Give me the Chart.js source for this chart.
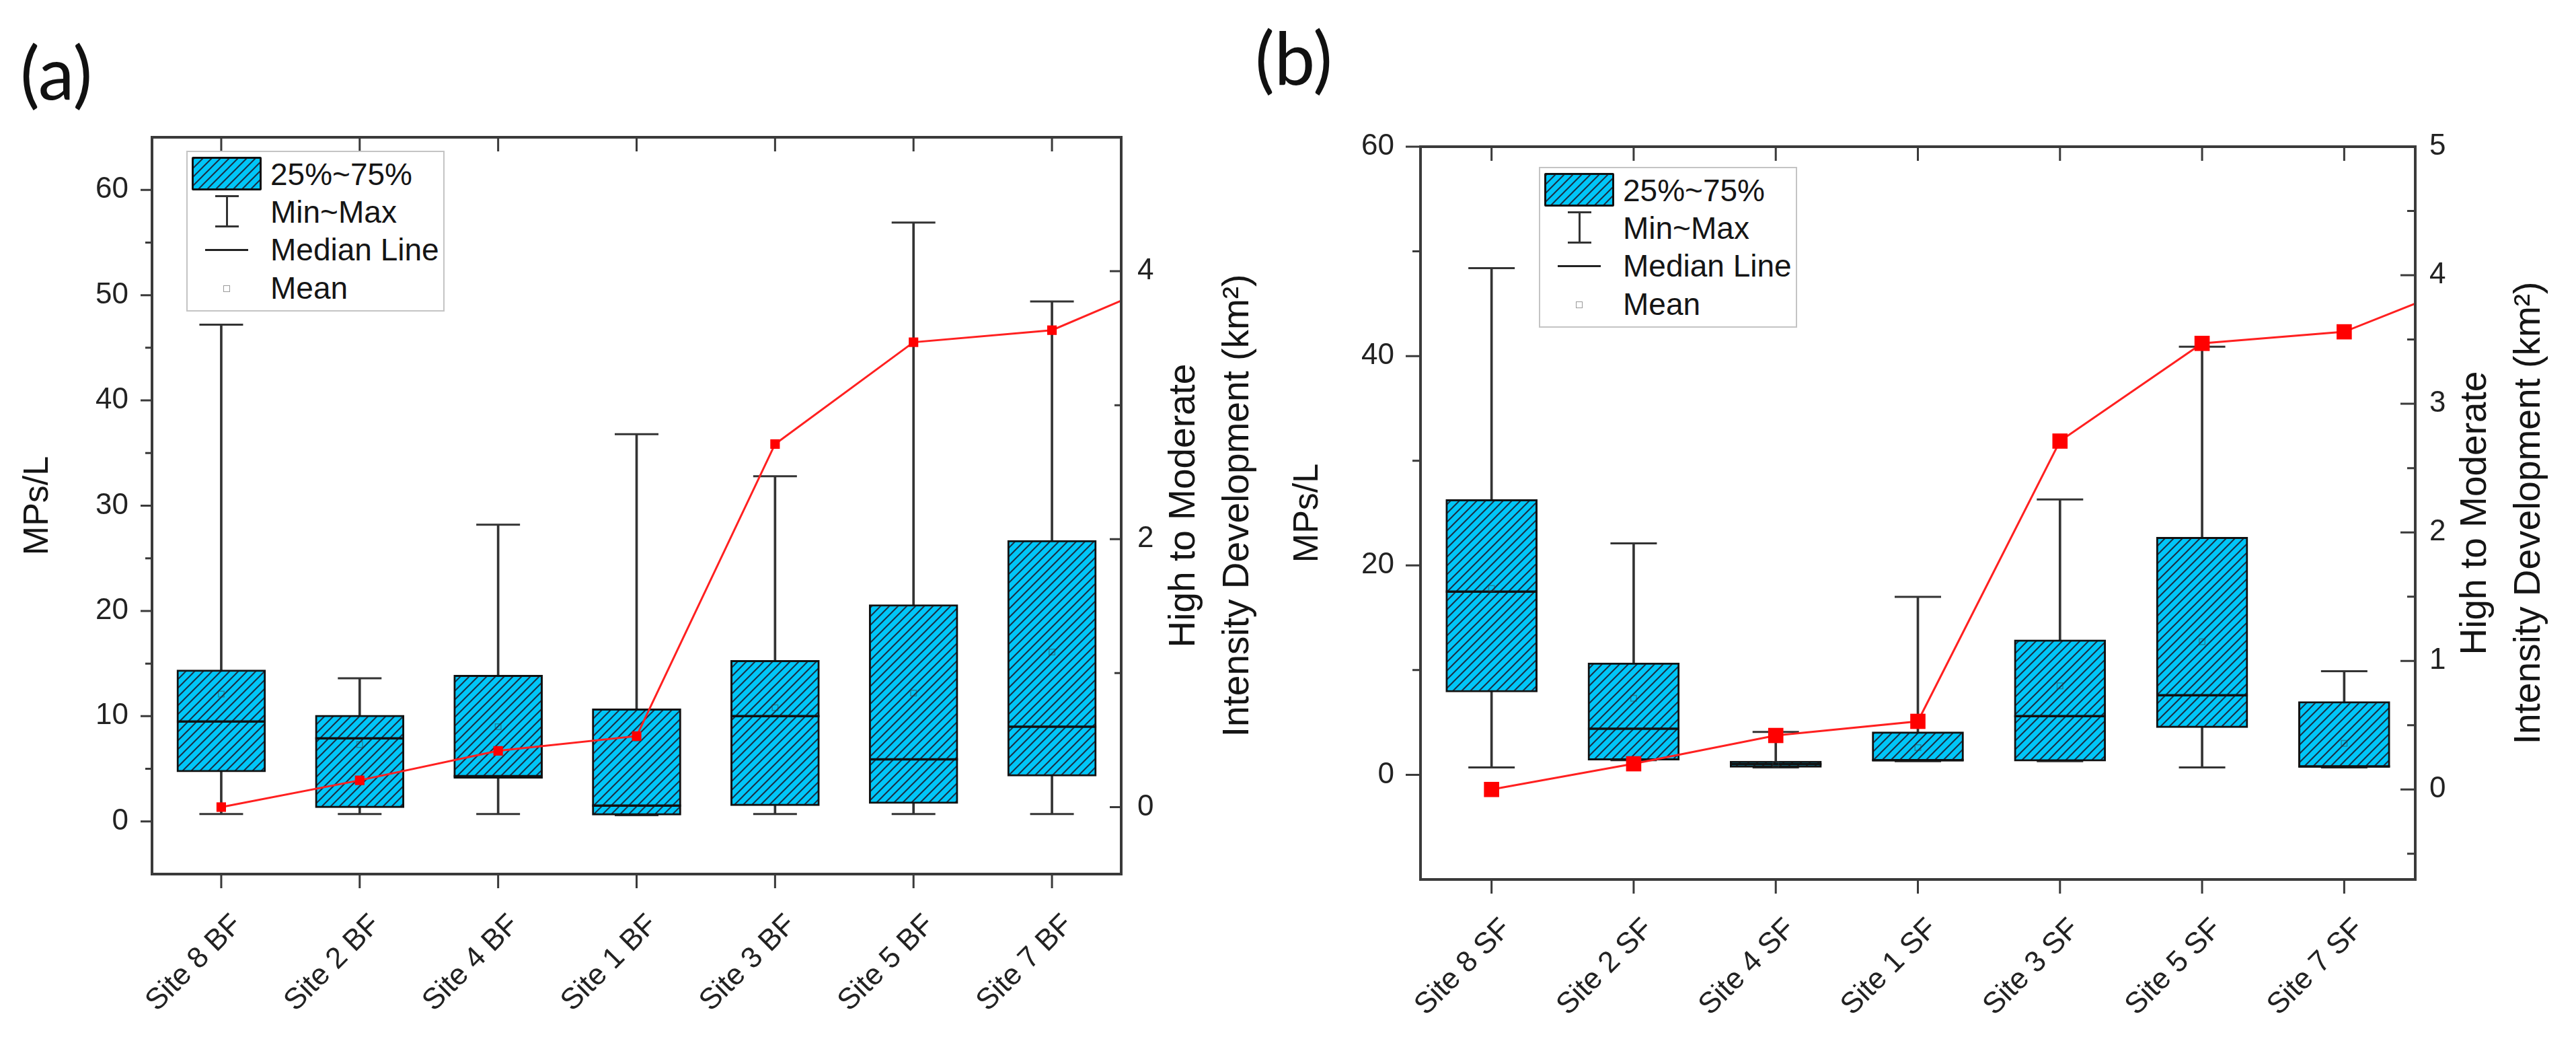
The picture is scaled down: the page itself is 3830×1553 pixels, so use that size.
<!DOCTYPE html>
<html lang="en">
<head>
    <meta charset="UTF-8">
    <title>MPs/L by site and high to moderate intensity development</title>
    <style>
        body {
            margin: 0;
            width: 3830px;
            height: 1553px;
            background: #ffffff;
            position: relative;
            overflow: hidden;
            font-family: 'Liberation Sans', Arial, sans-serif;
        }
        canvas {
            position: absolute;
            top: 0;
        }
        #chartA { left: 0; }
        #chartB { left: 1900px; }
        .tag {
            position: absolute;
            font-family: Lato, 'Open Sans', sans-serif;
            font-size: 108px;
            line-height: 1;
            color: #111;
        }
        .legend {
            position: absolute;
            width: 380px;
            height: 235px;
            border: 2px solid #c4c4c4;
            background: #ffffff;
            color: #151515;
            font-size: 46px;
        }
        .legend .row {
            position: absolute;
            left: 123px;
            height: 60px;
            line-height: 60px;
            white-space: nowrap;
        }
        .legend .patch {
            position: absolute;
            left: 6px;
            top: 7px;
            width: 98px;
            height: 44px;
            border: 3px solid #111;
            border-radius: 2px;
        }
        .legend .stem {
            position: absolute;
            left: 57px;
            top: 64px;
            width: 3px;
            height: 48px;
            background: #333;
        }
        .legend .cap {
            position: absolute;
            left: 41px;
            width: 35px;
            height: 3px;
            background: #333;
        }
        .legend .med {
            position: absolute;
            left: 26px;
            top: 144px;
            width: 64px;
            height: 3px;
            background: #222;
        }
        .legend .mean {
            position: absolute;
            left: 53px;
            top: 198px;
            width: 8px;
            height: 8px;
            border: 1.5px solid #9a9a9a;
        }
    </style>
    <script src="https://cdn.jsdelivr.net/npm/chart.js"></script>
</head>
<body>
    <div class="tag" style="left:30px; top:52px;">(a)</div>
    <div class="tag" style="left:1866px; top:30px;">(b)</div>

    <canvas id="chartA" width="1900" height="1553"></canvas>
    <canvas id="chartB" width="1930" height="1553"></canvas>

    <div class="legend" id="legendA" style="left:277px; top:224px;"></div>
    <div class="legend" id="legendB" style="left:2288px; top:248px;"></div>

    <script>
        // (a) BF samples
        const catsA = ["Site 8 BF", "Site 2 BF", "Site 4 BF", "Site 1 BF", "Site 3 BF", "Site 5 BF", "Site 7 BF"];
        const minA = [0.7, 0.7, 0.7, 0.6, 0.7, 0.7, 0.7];
        const q1A = [4.7, 1.3, 4.1, 0.6, 1.5, 1.7, 4.3];
        const medA = [9.5, 7.9, 4.3, 1.5, 10.0, 5.9, 9.0];
        const q3A = [14.4, 10.1, 13.9, 10.7, 15.3, 20.6, 26.7];
        const maxA = [47.2, 13.6, 28.2, 36.8, 32.8, 56.9, 49.4];
        const meanA = [12.1, 7.3, 9.0, 7.9, 10.8, 12.2, 16.1];

        // (b) SF samples
        const catsB = ["Site 8 SF", "Site 2 SF", "Site 4 SF", "Site 1 SF", "Site 3 SF", "Site 5 SF", "Site 7 SF"];
        const minB = [0.7, 1.4, 0.7, 1.3, 1.3, 0.7, 0.7];
        const q1B = [7.9, 1.4, 0.7, 1.3, 1.3, 4.5, 0.7];
        const medB = [17.5, 4.4, 1.0, 1.4, 5.6, 7.6, 0.8];
        const q3B = [26.3, 10.7, 1.3, 4.1, 12.9, 22.7, 7.0];
        const maxB = [48.4, 22.1, 4.1, 17.0, 26.3, 40.9, 9.9];
        const meanB = [17.8, 7.3, 1.0, 2.6, 8.5, 12.7, 3.0];

        // high to moderate intensity development (km2), same order of sites
        const devArea = [0, 0.2, 0.42, 0.53, 2.71, 3.47, 3.56];
        const devNext = 4.0; // red line keeps going past the frame

        // axis ticks
        const yTicksA = [0, 10, 20, 30, 40, 50, 60];
        const yMinorA = [5, 15, 25, 35, 45, 55];
        const y1TicksA = [0, 2, 4];
        const y1MinorA = [1, 3];
        const yTicksB = [0, 20, 40, 60];
        const yMinorB = [10, 30, 50];
        const y1TicksB = [0, 1, 2, 3, 4, 5];
        const y1MinorB = [-0.5, 0.5, 1.5, 2.5, 3.5, 4.5];

        const FONT = "'Liberation Sans', Arial, sans-serif";
        const rightTitle = ["High to Moderate", "Intensity Development (km\u00B2)"];

        function hatchCanvas() {
            const c = document.createElement("canvas");
            c.width = 13;
            c.height = 13;
            const g = c.getContext("2d");
            g.fillStyle = "#00c6f8";
            g.fillRect(0, 0, 13, 13);
            g.strokeStyle = "#1b2f45";
            g.lineWidth = 2;
            g.beginPath();
            g.moveTo(-3, 16); g.lineTo(16, -3);
            g.moveTo(-10, 10); g.lineTo(10, -10);
            g.moveTo(3, 23); g.lineTo(23, 3);
            g.stroke();
            return c;
        }
        const hatch = hatchCanvas();

        // frame, inward/outward ticks and the right axis title
        const framePlugin = {
            id: "frame",
            afterDraw(chart, args, o) {
                const { ctx, chartArea: a, scales } = chart;
                const seg = (x1, y1, x2, y2) => { ctx.moveTo(x1, y1); ctx.lineTo(x2, y2); };
                ctx.save();
                ctx.strokeStyle = "#3a3a3a";
                ctx.lineWidth = 4;
                ctx.strokeRect(a.left, a.top, a.right - a.left, a.bottom - a.top);
                ctx.lineWidth = 3;
                ctx.beginPath();
                scales.x.ticks.forEach(t => {
                    const px = scales.x.getPixelForValue(t.value);
                    seg(px, a.bottom, px, a.bottom + o.xLen);
                    seg(px, a.top, px, a.top + o.xLen);
                });
                o.yMajor.forEach(v => {
                    const py = scales.y.getPixelForValue(v);
                    seg(a.left - o.maj, py, a.left, py);
                });
                o.yMinor.forEach(v => {
                    const py = scales.y.getPixelForValue(v);
                    seg(a.left - o.min, py, a.left, py);
                });
                o.y1Major.forEach(v => {
                    const py = scales.y1.getPixelForValue(v);
                    seg(a.right - o.maj, py, a.right, py);
                });
                o.y1Minor.forEach(v => {
                    const py = scales.y1.getPixelForValue(v);
                    seg(a.right - o.min, py, a.right, py);
                });
                ctx.stroke();

                ctx.fillStyle = "#151515";
                ctx.font = o.titleSize + "px " + FONT;
                ctx.textAlign = "center";
                ctx.textBaseline = "middle";
                const cy = (a.top + a.bottom) / 2;
                rightTitle.forEach((line, i) => {
                    ctx.save();
                    ctx.translate(a.right + o.titleX[i], cy);
                    ctx.rotate(-Math.PI / 2);
                    ctx.fillText(line, 0, 0);
                    ctx.restore();
                });
                ctx.restore();
            }
        };

        function boxChart(id, o) {
            const xs = o.cats.map((c, i) => i + 1);
            const pts = arr => xs.map((x, i) => ({ x: x, y: arr[i] }));
            const pattern = document.getElementById(id).getContext("2d").createPattern(hatch, "repeat");
            return new Chart(document.getElementById(id), {
                type: "bar",
                data: {
                    datasets: [
                        {
                            label: "Development",
                            type: "line",
                            yAxisID: "y1",
                            order: 1,
                            data: pts(devArea).concat([{ x: 8, y: devNext }]),
                            borderColor: "#ff2020",
                            borderWidth: 3,
                            pointStyle: "rect",
                            pointRadius: ctx => (ctx.dataIndex < 7 ? o.mark : 0),
                            pointBackgroundColor: "#ff0000",
                            pointBorderWidth: 0
                        },
                        {
                            label: "Mean",
                            type: "line",
                            showLine: false,
                            order: 2,
                            data: pts(o.mean),
                            pointStyle: "rect",
                            pointRadius: 6,
                            pointBorderColor: "rgba(60,60,60,0.45)",
                            pointBorderWidth: 1.5,
                            pointBackgroundColor: "rgba(0,0,0,0)"
                        },
                        {
                            label: "Median Line",
                            type: "line",
                            showLine: false,
                            order: 3,
                            data: pts(o.med),
                            pointStyle: "line",
                            pointRadius: o.box / 2,
                            pointBorderColor: "#111",
                            pointBorderWidth: 3.5
                        },
                        {
                            label: "25%~75%",
                            type: "bar",
                            order: 4,
                            grouped: false,
                            barThickness: o.box,
                            data: xs.map((x, i) => ({ x: x, y: [o.q1[i], o.q3[i]] })),
                            backgroundColor: pattern,
                            borderColor: "#111",
                            borderWidth: 3,
                            borderSkipped: false
                        },
                        {
                            label: "Caps",
                            type: "line",
                            showLine: false,
                            order: 5,
                            data: pts(o.min).concat(pts(o.max)),
                            pointStyle: "line",
                            pointRadius: o.cap / 2,
                            pointBorderColor: "#333",
                            pointBorderWidth: 3
                        },
                        {
                            label: "Min~Max",
                            type: "bar",
                            order: 6,
                            grouped: false,
                            barThickness: 3,
                            data: xs.map((x, i) => ({ x: x, y: [o.min[i], o.max[i]] })),
                            backgroundColor: "#333",
                            borderWidth: 0
                        }
                    ]
                },
                options: {
                    responsive: false,
                    animation: false,
                    devicePixelRatio: 1,
                    events: [],
                    layout: { padding: { top: o.top, left: 0, right: 0, bottom: 0 } },
                    plugins: {
                        legend: { display: false },
                        tooltip: { enabled: false },
                        frame: o.frame
                    },
                    scales: {
                        x: {
                            type: "linear",
                            offset: false,
                            min: 0.5,
                            max: 7.5,
                            grid: { display: false, drawTicks: false, offset: false },
                            border: { display: false },
                            afterBuildTicks: s => { s.ticks = xs.map(v => ({ value: v })); },
                            afterFit: s => { s.height = o.xH; },
                            ticks: {
                                autoSkip: false,
                                minRotation: 45,
                                maxRotation: 45,
                                padding: o.xPad,
                                labelOffset: o.xShift,
                                color: "#222",
                                font: { family: FONT, size: 44 },
                                callback: v => o.cats[v - 1]
                            }
                        },
                        y: {
                            position: "left",
                            min: o.yMin,
                            max: o.yMax,
                            grid: { display: false, drawTicks: false },
                            border: { display: false },
                            afterBuildTicks: s => { s.ticks = o.yTicks.map(v => ({ value: v })); },
                            afterFit: s => { s.width = o.yW; },
                            ticks: {
                                padding: o.yPad,
                                color: "#222",
                                font: { family: FONT, size: 44 },
                                callback: v => String(v)
                            },
                            title: {
                                display: true,
                                text: "MPs/L",
                                color: "#151515",
                                font: { family: FONT, size: 52 },
                                padding: { top: o.titlePad, bottom: 0 }
                            }
                        },
                        y1: {
                            position: "right",
                            min: o.y1Min,
                            max: 5,
                            grid: { display: false, drawTicks: false },
                            border: { display: false },
                            afterBuildTicks: s => { s.ticks = o.y1Ticks.map(v => ({ value: v })); },
                            afterFit: s => { s.width = o.y1W; },
                            ticks: {
                                padding: o.y1Pad,
                                color: "#222",
                                font: { family: FONT, size: 44 },
                                callback: v => String(v)
                            }
                        }
                    }
                },
                plugins: [framePlugin]
            });
        }

        boxChart("chartA", {
            cats: catsA, min: minA, q1: q1A, med: medA, q3: q3A, max: maxA, mean: meanA,
            yMin: -5, yMax: 65, yTicks: yTicksA, y1Min: -0.5, y1Ticks: y1TicksA,
            top: 204, xH: 254, yW: 226, y1W: 233,
            xPad: 50, xShift: 24, yPad: 35, y1Pad: 24, titlePad: 25,
            box: 132, cap: 65, mark: 10,
            frame: { xLen: 21, maj: 17, min: 10, yMajor: yTicksA, yMinor: yMinorA,
                     y1Major: y1TicksA, y1Minor: y1MinorA, titleSize: 55, titleX: [94, 174] }
        });

        boxChart("chartB", {
            cats: catsB, min: minB, q1: q1B, med: medB, q3: q3B, max: maxB, mean: meanB,
            yMin: -10, yMax: 60, yTicks: yTicksB, y1Min: -0.7, y1Ticks: y1TicksB,
            top: 218, xH: 246, yW: 212, y1W: 239,
            xPad: 48, xShift: 22, yPad: 39, y1Pad: 21, titlePad: 13,
            box: 136, cap: 69, mark: 16,
            frame: { xLen: 21, maj: 22, min: 12, yMajor: yTicksB, yMinor: yMinorB,
                     y1Major: y1TicksB, y1Minor: y1MinorB, titleSize: 55, titleX: [90, 170] }
        });

        // legends, drawn in html over the plot
        function buildLegend(id) {
            const el = document.getElementById(id);
            el.innerHTML =
                '<div class="patch"></div>' +
                '<div class="stem"></div>' +
                '<div class="cap" style="top:64px"></div>' +
                '<div class="cap" style="top:109px"></div>' +
                '<div class="med"></div>' +
                '<div class="mean"></div>' +
                '<div class="row" style="top:3px">25%~75%</div>' +
                '<div class="row" style="top:59px">Min~Max</div>' +
                '<div class="row" style="top:115px">Median Line</div>' +
                '<div class="row" style="top:172px">Mean</div>';
            el.querySelector(".patch").style.backgroundImage = "url(" + hatch.toDataURL() + ")";
        }
        buildLegend("legendA");
        buildLegend("legendB");
    </script>
</body>
</html>
